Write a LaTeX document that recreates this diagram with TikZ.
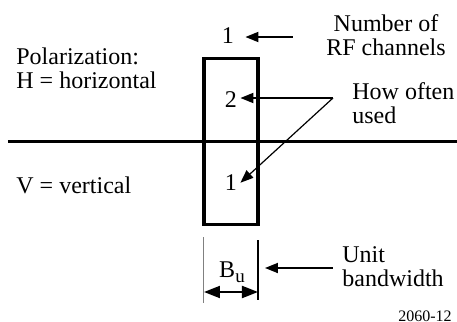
\documentclass[tikz,border=0pt]{standalone}
\usepackage{fontspec}
\setmainfont{Liberation Serif}
\usetikzlibrary{arrows.meta,positioning}

\begin{document}
\begin{tikzpicture}[
  x=0.5pt,y=-0.5pt,
  lbl/.style={inner sep=0pt,font=\fontsize{12}{12}\selectfont},
  txt/.style={lbl,align=left,anchor=west},
  num/.style={lbl,inner sep=1.5pt},
  cell/.style={draw,line width=1.75pt,minimum width=27pt,minimum height=41.5pt,outer sep=0pt,inner sep=0pt},
  ar/.style={-{Triangle[length=6.5pt,width=5pt]},line width=0.9pt},
  thinar/.style={ar,line width=0.6pt},
  dimar/.style={{Triangle[length=8pt,width=6pt]}-{Triangle[length=8pt,width=6pt]},line width=1pt},
]
\useasboundingbox (0,0) rectangle (457,322);

\node[cell] (hbox) at (231,99.75) {};
\node[cell,below=0pt of hbox] (vbox) {};
\node[num] (hnum) at (hbox) {2};
\node[num] (vnum) at (vbox) {1};
\node[num,anchor=base] (chnum) at (228,43) {1};

\node[lbl,align=center] (chan) at (386,34.8) {Number of\\RF channels};
\node[txt] (often) at (352,103.3) {How often\\used};
\node[txt] (pol) at (16,68.3) {Polarization:\\H = horizontal};
\node[lbl,anchor=base west] (vert) at (16,193) {V = vertical};
\node[lbl,anchor=base] (bu) at (232,277) {B\raisebox{-2.5pt}{\fontsize{9.5}{9.5}\selectfont u}};
\node[txt] (unit) at (342,266.3) {Unit\\bandwidth};
\node[lbl,anchor=base east,font=\fontsize{8}{8}\selectfont] (fig) at (452,321) {2060-12};

\coordinate (chtail) at (293,37);
\coordinate (usetail) at (333,98);
\coordinate (unittail) at (333,268);
\coordinate (unittip) at (265,268);
\coordinate (bwl) at (vbox.south west |- 0,292);
\coordinate (bwr) at (vbox.south east |- 0,292);

\draw[line width=1.4pt] (8,141.2) -- (457,141.2);
\draw[ar,shorten >=4pt] (chtail) -- (chtail -| chnum.east);
\draw[ar] (usetail) -- (usetail -| hnum.east);
\draw[thinar] (usetail) -- (vnum.east);
\draw[ar] (unittail) -- (unittip);
\draw[gray,line width=0.5pt] (bwl |- 0,237) -- (bwl |- 0,303);
\draw[line width=1.2pt] (bwr |- 0,240) -- (bwr |- 0,300);
\draw[dimar] (bwl) -- (bwr);
\end{tikzpicture}
\end{document}
